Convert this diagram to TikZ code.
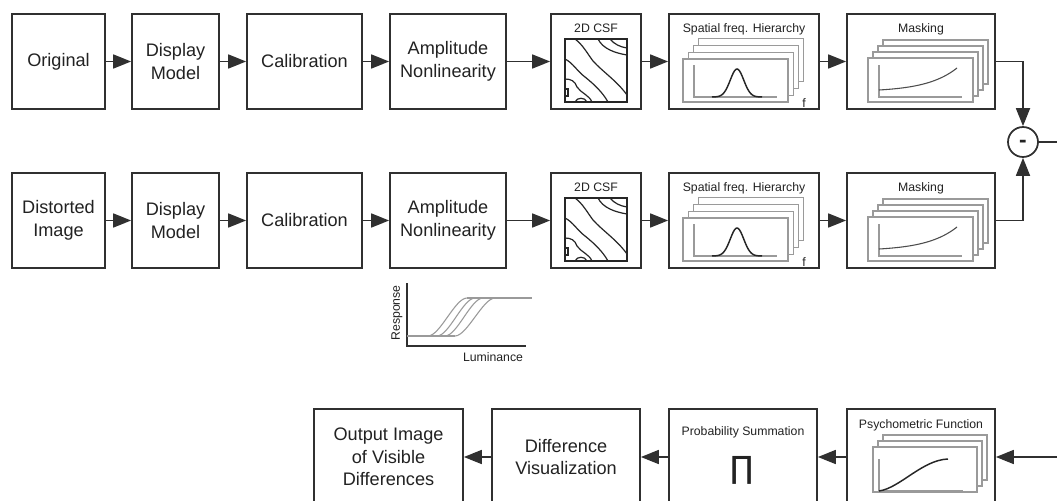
\documentclass[tikz,border=0pt]{standalone}
\usepackage{fontspec}
\setmainfont{Liberation Sans}
\newfontfamily\djv{DejaVu Sans}
\usetikzlibrary{arrows.meta}
\def\px{0.75pt}
\definecolor{ln}{HTML}{303030}
\definecolor{fr}{HTML}{9A9A9A}
\definecolor{tx}{HTML}{222222}
\tikzset{
 box/.style={draw=ln, line width=1.3pt, fill=white, text=tx, align=center,
   font=\fontsize{13.6}{17}\selectfont, inner sep=0pt},
 arr/.style={draw=ln, line width=1.3pt, -{Triangle[length=13.5pt,width=10.5pt]}},
 ttl/.style={text=tx, font=\fontsize{9.2}{11}\selectfont, inner sep=0pt},
 frm/.style={draw=fr, line width=0.8pt, fill=white},
 axl/.style={draw=fr, line width=0.8pt},
 crv/.style={draw=black!85, line width=1.1pt},
 ctr/.style={draw=black!85, line width=0.9pt},
}
\begin{document}
\begin{tikzpicture}[x=0.75pt,y=-0.75pt]
\useasboundingbox (0,0) rectangle (1057,500);
\clip (0,0) rectangle (1057,500);
\fill[white] (0,0) rectangle (1057,500);

\foreach \r/\yc/\first in {1/61.5/Original, 2/220.5/{Distorted\\Image}}{
  \node[box, minimum width=93*\px, minimum height=95*\px] (in\r) at (58.5,\yc) {\first};
  \node[box, minimum width=87*\px, minimum height=95*\px] (disp\r) at (175.5,\yc) {Display\\Model};
  \node[box, minimum width=115*\px, minimum height=95*\px] (cal\r) at (304.5,\yc) {Calibration};
  \node[box, minimum width=116*\px, minimum height=95*\px] (amp\r) at (448,\yc) {Amplitude\\Nonlinearity};
  \node[box, minimum width=90*\px, minimum height=95*\px] (csf\r) at (596,\yc) {};
  \node[box, minimum width=150*\px, minimum height=95*\px] (sfh\r) at (744,\yc) {};
  \node[box, minimum width=148*\px, minimum height=95*\px] (mask\r) at (921,\yc) {};
  \draw[arr] (in\r) -- (disp\r);
  \draw[arr] (disp\r) -- (cal\r);
  \draw[arr] (cal\r) -- (amp\r);
  \draw[arr] (amp\r) -- (csf\r);
  \draw[arr] (csf\r) -- (sfh\r);
  \draw[arr] (sfh\r) -- (mask\r);
  % 2D CSF
  \node[ttl] (csft\r) at (596,\yc-33.5) {2D CSF};
  \begin{scope}[shift={(565,\yc-22.5)}]
    \draw[ctr] (33,0) .. controls (38,10) and (50,14) .. (62,16);
    \draw[ctr] (45,0) .. controls (49,5) and (55,8) .. (62,9);
    \draw[ctr] (10,0) .. controls (18,6) and (22,14) .. (28,22)
               .. controls (38,33) and (52,42) .. (62,56);
    \draw[ctr] (0,20) .. controls (8,24) and (12,32) .. (20,38)
               .. controls (30,46) and (38,54) .. (43,63);
    \draw[ctr] (0,40) .. controls (6,40) and (10,42) .. (12,48)
               .. controls (16,54) and (24,56) .. (27,63);
    \draw[ctr] (0,50) -- (3,50) -- (3,57) -- (0,57);
    \draw[ctr] (10,63) .. controls (12,58) and (20,58) .. (22,63);
    \draw[draw=black!85, line width=1.2pt] (0,0) rectangle (62,63);
  \end{scope}
  % Spatial freq hierarchy
  \node[ttl] (sfht\r) at (744,\yc-32.5) {Spatial freq. Hierarchy};
  \foreach \k in {3,2,1,0}{
    \draw[frm] ({683+5.3*\k},{\yc-2.5-6.7*\k}) rectangle ++(105,43);
  }
  \draw[axl] (694,\yc+3.5) -- (694,\yc+35.5) -- (777,\yc+35.5);
  \draw[crv] plot[domain=-25:25, samples=41, smooth] ({737+\x},{\yc+35.5-28*exp(-(\x/9.5)^2)});
  \node[ttl] (f\r) at (804,\yc+42) {f};
  % Masking
  \node[ttl] (maskt\r) at (921,\yc-32.5) {Masking};
  \foreach \k in {3,2,1,0}{
    \draw[frm] ({868+5*\k},{\yc-3.5-6*\k}) rectangle ++(105,44);
  }
  \draw[axl] (879,\yc+3.5) -- (879,\yc+35.5) -- (962,\yc+35.5);
  \draw[draw=black!70, line width=0.8pt] plot[domain=0:78, samples=30, smooth]
     ({879+\x},{\yc+28.5-22*(exp(\x/30)-1)/(exp(2.6)-1)});
}

% difference node
\node[draw=ln, line width=1.3pt, circle, minimum size=30*\px, inner sep=0pt, fill=white,
      text=tx, text height=8.4pt, text depth=0pt,
      font=\bfseries\fontsize{17}{17}\selectfont] (diff) at (1023,142) {-};
\draw[arr] (mask1.east) -| (diff.north);
\draw[arr] (mask2.east) -| (diff.south);

% response plot
\draw[draw=ln, line width=1pt] (407,283) -- (407,346) -- (526,346);
\draw[axl] (407,336) -- (455,336);
\draw[axl] (467,298) -- (532,298);
\foreach \s/\e in {428/467, 437/475, 445/483, 455/495}{
  \draw[axl] (\s,336) .. controls (\s+12,336) and (\e-12,298) .. (\e,298);
}
\node[ttl, rotate=90] (resp) at (397,313) {Response};
\node[ttl] (lum) at (493,357) {Luminance};

% bottom row
\node[box, minimum width=149*\px, minimum height=96*\px] (out) at (388.5,457) {Output Image\\of Visible\\Differences};
\node[box, minimum width=148*\px, minimum height=96*\px] (dvis) at (566,457) {Difference\\Visualization};
\node[box, minimum width=148*\px, minimum height=96*\px] (prob) at (743,457) {};
\node[box, minimum width=148*\px, minimum height=96*\px] (psy) at (921,457) {};
\node[ttl] (probt) at (743,432) {Probability Summation};
\node[text=tx, inner sep=0pt, font=\djv\fontsize{23}{23}\selectfont] (pi) at (742,470) {∏};
\node[ttl] (psyt) at (921,425) {Psychometric Function};
\foreach \k in {2,1,0}{
  \draw[frm] ({873+5*\k},{447-6*\k}) rectangle ++(104,45);
}
\draw[axl] (879,459) -- (879,491) -- (963,491);
\draw[crv] (879,491) .. controls (900,488) and (922,460) .. (948,459);

\coordinate (rt) at (1072,142);
\draw[arr] (diff.east) -- (rt) |- (psy.east);
\draw[arr] (psy) -- (prob);
\draw[arr] (prob) -- (dvis);
\draw[arr] (dvis) -- (out);
\end{tikzpicture}
\end{document}
